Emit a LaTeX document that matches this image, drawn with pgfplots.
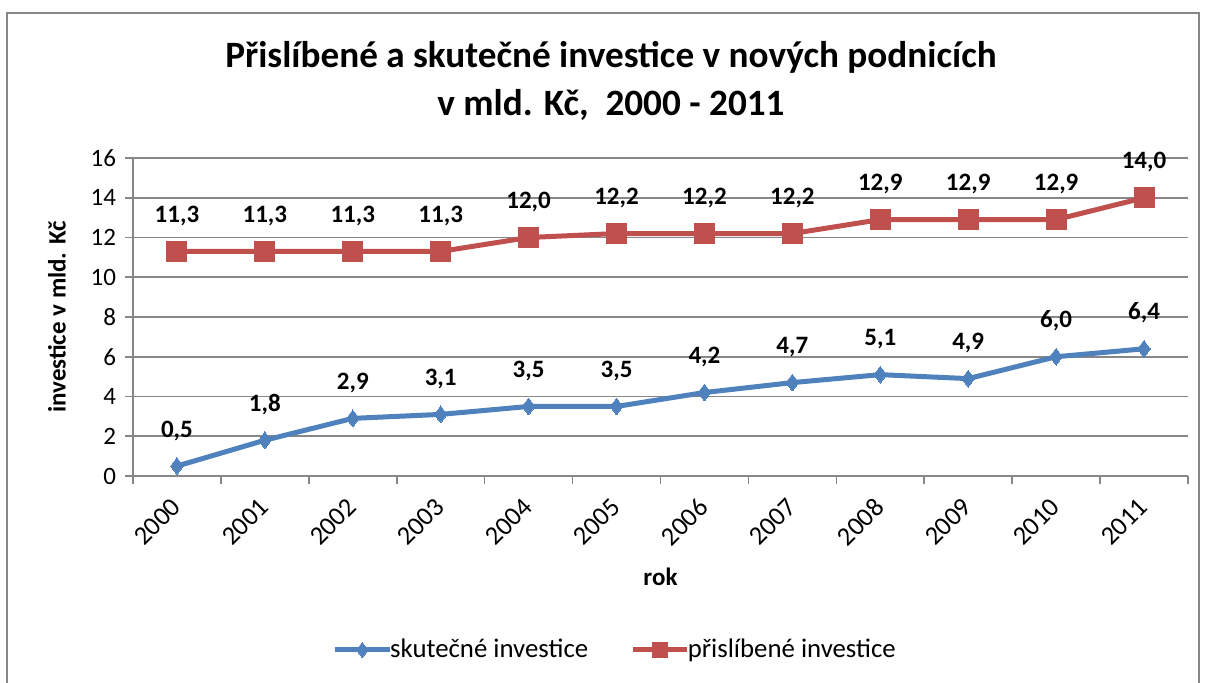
\documentclass[border=0pt]{standalone}
\usepackage{fontspec}
\setmainfont{Carlito}
\usepackage{pgfplots}
\pgfplotsset{compat=1.18}
\definecolor{serA}{HTML}{4F81BD}
\definecolor{serB}{HTML}{C0504D}
\definecolor{gridc}{HTML}{878787}
\begin{document}
\begin{tikzpicture}[x=0.5pt,y=0.5pt]
\useasboundingbox (0,0) rectangle (1206,682);
\clip (0,0) rectangle (1206,682);
\draw[gridc, line width=1pt] (7,-20) rectangle (1199,669);
\node[font=\bfseries\fontsize{18.6}{22}\selectfont, anchor=base] at (611,614) {Přislíbené a skutečné investice v nových podnicích};
\node[font=\bfseries\fontsize{18.6}{22}\selectfont, anchor=base] at (611,567) {v mld. Kč,~ 2000 - 2011};
\begin{axis}[
  at={(66.5pt,103pt)}, anchor=south west,
  scale only axis, width=527.5pt, height=159pt,
  xmin=-0.5, xmax=11.5, ymin=0, ymax=16,
  axis lines=left, axis line style={-, gridc, line width=0.8pt},
  xtick={-0.5,0.5,...,11.5}, x tick label as interval,
  xticklabels={2000,2001,2002,2003,2004,2005,2006,2007,2008,2009,2010,2011},
  ytick={0,2,...,16},
  tick align=outside, major tick length=4pt,
  tick style={gridc, line width=0.8pt},
  ymajorgrids, grid style={gridc, line width=0.8pt},
  /pgf/number format/assume math mode=true,
  tick label style={font=\fontsize{12.5}{15}\selectfont, black},
  xticklabel style={rotate=45, anchor=east, font=\fontsize{13.2}{15}\selectfont, xshift=-3.5pt, yshift=-6.4pt},
  yticklabel style={xshift=-1pt},
  xlabel={rok}, ylabel={investice v mld. Kč},
  label style={font=\bfseries\fontsize{12.5}{15}\selectfont},
  xlabel style={at={(axis description cs:0.5,-0.317)}, anchor=center},
  ylabel style={at={(axis description cs:-0.072,0.5)}, anchor=center},
  nodes near coords,
  nodes near coords style={font=\bfseries\fontsize{12.5}{15}\selectfont, black,
    anchor=base, yshift=14.5pt,
    /pgf/number format/.cd, fixed, fixed zerofill, precision=1, use comma, assume math mode=true},
  legend columns=2,
  legend style={at={(0.458,-0.547)}, anchor=center, draw=none, fill=none,
    font=\fontsize{13.4}{16}\selectfont, inner xsep=0pt,
    /tikz/every even column/.append style={column sep=19pt},
    /tikz/every odd column/.append style={column sep=-3pt}},
  legend image code/.code={\draw[mark repeat=2, mark phase=2, mark size=3.8pt] plot coordinates {(0cm,0cm)(0.48cm,0cm)(0.96cm,0cm)};},
  clip=false,
]
\addplot[serA, line width=2.5pt, mark=diamond*, mark size=4.2pt, mark options={solid, fill=serA, line width=0pt}] coordinates {
  (0,0.5)(1,1.8)(2,2.9)(3,3.1)(4,3.5)(5,3.5)(6,4.2)(7,4.7)(8,5.1)(9,4.9)(10,6.0)(11,6.4)};
\addlegendentry{skutečné investice}
\addplot[serB, line width=2.5pt, mark=square*, mark size=5pt, mark options={solid, fill=serB, line width=0pt}] coordinates {
  (0,11.3)(1,11.3)(2,11.3)(3,11.3)(4,12.0)(5,12.2)(6,12.2)(7,12.2)(8,12.9)(9,12.9)(10,12.9)(11,14.0)};
\addlegendentry{přislíbené investice}
\end{axis}
\end{tikzpicture}
\end{document}
